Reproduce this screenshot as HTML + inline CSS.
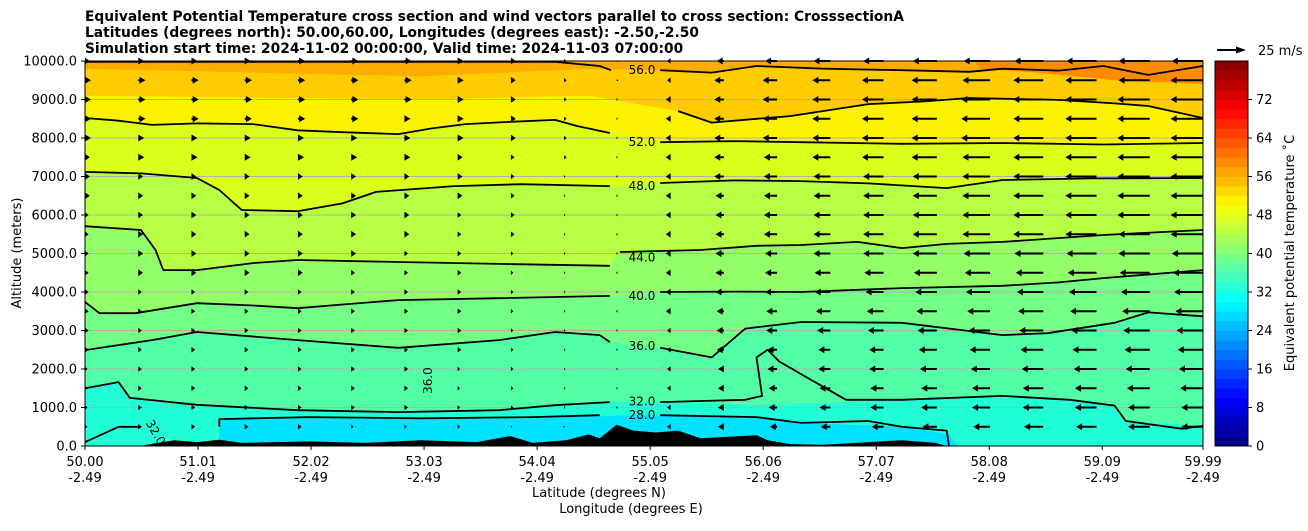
<!DOCTYPE html>
<html><head><meta charset="utf-8"><style>
body{margin:0;background:#fff}
svg text{font-family:"DejaVu Sans","Liberation Sans",sans-serif;fill:#000}
</style></head><body>
<svg id="chart" width="1308" height="526" viewBox="0 0 1308 526" xmlns="http://www.w3.org/2000/svg">
<g font-size="13.8" font-weight="bold">
<text x="85" y="21">Equivalent Potential Temperature cross section and wind vectors parallel to cross section: CrosssectionA</text>
<text x="85" y="37">Latitudes (degrees north): 50.00,60.00, Longitudes (degrees east): -2.50,-2.50</text>
<text x="85" y="53">Simulation start time: 2024-11-02 00:00:00, Valid time: 2024-11-03 07:00:00</text>
</g>
<defs><clipPath id="pc"><rect x="85" y="61" width="1118" height="385"/></clipPath></defs>
<g id="fills" clip-path="url(#pc)"></g>
<g id="grid"></g>
<g id="terrain" clip-path="url(#pc)"></g>
<g id="lines" clip-path="url(#pc)"></g>
<g id="arrows"></g>
<g id="clabels" font-size="12"></g>
<rect x="85" y="61" width="1118" height="385" fill="none" stroke="#000" stroke-width="1"/>
<g id="axes" font-size="13"></g>
<text x="0" y="0" font-size="13" transform="translate(21,253) rotate(-90)" text-anchor="middle">Altitude (meters)</text>
<text x="599" y="497" font-size="13" text-anchor="middle">Latitude (degrees N)</text>
<text x="631" y="513" font-size="13" text-anchor="middle">Longitude (degrees E)</text>
<g id="cbar"></g>
<text font-size="13" transform="translate(1294,253) rotate(-90)" text-anchor="middle">Equivalent potential temperature ˚C</text>
<g>
<line x1="1217" y1="50" x2="1238" y2="50" stroke="#000" stroke-width="2"/>
<polygon points="1246,50 1236,46.5 1236,53.5" fill="#000"/>
<text x="1258" y="55" font-size="13">25 m/s</text>
</g>
</svg>
<script>
const yTicks=[0,1000,2000,3000,4000,5000,6000,7000,8000,9000,10000];
const xTickLat=["50.00","51.01","52.02","53.03","54.04","55.05","56.06","57.07","58.08","59.09","59.99"];
const xTickLon=["-2.49","-2.49","-2.49","-2.49","-2.49","-2.49","-2.49","-2.49","-2.49","-2.49","-2.49"];
const cbarTicks=[0,8,16,24,32,40,48,56,64,72];
const windAlts=[10000,9500,9000,8500,8000,7500,7000,6500,6000,5500,5000,4500,4000,3500,3000,2500,2000,1500,1000,500];
const windU=[
[4,5,5,5,6,6,6,5,4,2,0,-3,-6,-10,-14,-17,-20,-22,-24,-25,-26,-26],
[5,6,6,6,6,6,6,5,4,2,0,-3,-8,-12,-15,-18,-21,-23,-25,-26,-26,-27],
[5,6,6,6,6,6,6,5,4,2,-1,-4,-8,-12,-15,-18,-21,-24,-25,-26,-27,-27],
[5,6,6,6,6,6,5,5,4,2,-1,-4,-8,-12,-15,-18,-21,-24,-25,-26,-27,-27],
[5,5,5,5,5,5,5,5,4,2,-1,-4,-8,-12,-15,-18,-21,-24,-25,-26,-27,-27],
[4,5,5,5,5,5,5,4,3,2,-1,-4,-8,-11,-15,-18,-21,-23,-25,-26,-27,-27],
[4,4,4,4,4,4,4,4,3,1,-1,-4,-8,-11,-14,-17,-20,-23,-25,-26,-27,-27],
[4,4,4,4,4,4,4,4,3,1,-1,-4,-7,-11,-14,-17,-20,-23,-25,-26,-27,-27],
[3,4,4,4,4,4,4,3,3,1,-1,-4,-7,-11,-14,-17,-20,-23,-25,-26,-27,-27],
[3,4,4,4,4,4,4,3,3,1,-1,-4,-7,-11,-14,-17,-20,-23,-25,-26,-26,-27],
[3,4,4,4,4,4,3,3,2,1,-1,-4,-7,-10,-14,-17,-20,-22,-24,-25,-26,-26],
[3,4,4,4,4,3,3,3,2,1,-1,-4,-7,-10,-13,-16,-19,-21,-23,-24,-25,-25],
[3,3,3,3,3,3,3,3,2,1,-1,-4,-7,-10,-13,-15,-18,-20,-22,-23,-24,-24],
[3,3,3,3,3,3,3,3,2,1,-1,-4,-6,-9,-12,-14,-17,-19,-21,-22,-23,-23],
[3,3,3,3,3,3,3,3,2,1,-1,-3,-6,-9,-11,-13,-16,-18,-20,-21,-22,-22],
[3,3,3,3,3,3,3,3,2,1,-1,-3,-6,-8,-10,-12,-15,-17,-19,-20,-21,-21],
[2,3,3,3,3,3,3,2,2,1,-1,-3,-5,-8,-10,-12,-14,-16,-18,-19,-20,-20],
[2,3,3,3,3,3,3,2,2,1,-1,-3,-5,-7,-9,-11,-13,-15,-17,-18,-19,-19],
[2,3,3,3,3,3,3,2,2,1,-1,-3,-5,-7,-9,-11,-13,-15,-17,-18,-18,-18],
[2,3,3,3,3,2,2,2,1,0,-1,-3,-5,-6,-8,-10,-12,-14,-16,-17,-18,-18]];
const c56a=[[50,9980],[54.2,9980],[54.6,9870],[54.7,9760]];
const c56b=[[55.14,9760],[55.6,9700],[56.0,9870],[56.6,9800],[57.3,9760],[57.9,9720],[58.2,9800],[58.7,9750],[59.1,9870],[59.5,9640],[59.99,9870]];
const c54=[[55.3,8700],[55.6,8400],[56.0,8500],[56.3,8570],[57.0,8880],[57.5,8950],[57.9,9040],[58.7,8990],[59.2,8900],[59.5,8830],[59.99,8520]];
const c52a=[[50,8520],[50.3,8450],[50.6,8340],[51.0,8380],[51.5,8360],[51.9,8200],[52.3,8150],[52.8,8100],[53.1,8250],[53.4,8360],[53.8,8420],[54.2,8470],[54.4,8310],[54.69,8130]];
const c52b=[[55.14,7890],[55.8,7920],[56.4,7890],[57.3,7850],[58.2,7870],[59.1,7830],[59.99,7870]];
const c48a=[[50,7120],[50.5,7080],[51.0,6960],[51.2,6650],[51.4,6130],[51.9,6100],[52.3,6300],[52.6,6600],[53.3,6750],[53.9,6800],[54.69,6750]];
const c48b=[[55.14,6830],[55.8,6900],[56.4,6880],[57.0,6820],[57.7,6700],[58.2,6910],[59.0,6950],[59.99,6960]];
const c44a=[[50,5710],[50.5,5610],[50.63,5090],[50.7,4570],[51.0,4570],[51.5,4750],[51.9,4830],[52.8,4780],[53.7,4730],[54.69,4680]];
const c44b=[[54.78,5040],[55.5,5090],[56.0,5200],[56.4,5220],[56.9,5300],[57.3,5140],[57.7,5250],[58.2,5300],[59.1,5480],[59.99,5610]];
const c40a=[[50,3740],[50.13,3450],[50.45,3450],[51.0,3710],[51.5,3650],[51.9,3580],[52.4,3700],[52.8,3790],[53.7,3840],[54.69,3900]];
const c40b=[[55.14,4000],[55.8,4010],[56.4,4000],[57.3,4100],[58.2,4160],[58.7,4250],[59.1,4360],[59.99,4570]];
const c36a=[[50,2490],[50.6,2750],[51.0,2960],[51.9,2750],[52.8,2550],[53.7,2750],[54.2,2960],[54.6,2880],[54.69,2700]];
const c36b=[[55.14,2550],[55.6,2300],[55.9,3050],[56.4,3220],[57.3,3200],[58.2,2880],[58.6,2930],[59.2,3200],[59.5,3470],[59.99,3370]];
const c32a=[[50,1500],[50.3,1660],[50.4,1250],[51.0,1070],[51.9,930],[52.8,880],[53.7,930],[54.2,1060],[54.69,1140]];
const c32b=[[55.14,1140],[55.9,1200],[56.05,1300],[56.0,2300],[56.1,2500],[56.2,2200],[56.5,1700],[56.8,1200],[57.3,1200],[58.2,1300],[58.8,1200],[59.2,1050],[59.3,650],[59.8,450],[59.99,520]];
const c28a=[[50,100],[50.3,500],[50.5,500]];
const c28b=[[51.2,500],[51.2,700],[52.0,750],[53.0,720],[54.0,750],[54.6,800]];
const c28c=[[55.14,800],[56.0,750],[56.4,600],[57.0,650],[57.3,500],[57.7,400],[57.72,0]];
const cyanPool=[[51.2,0],[51.2,700],[52,750],[53,720],[54,750],[55,800],[56,750],[56.4,600],[57.3,500],[57.72,300],[57.8,0]];
const terrain=[[50.5,0],[50.6,60],[50.8,150],[51.0,100],[51.2,160],[51.4,80],[52.0,120],[52.5,80],[53.0,150],[53.5,100],[53.8,260],[54.0,80],[54.3,150],[54.5,300],[54.6,200],[54.75,550],[54.9,400],[55.1,350],[55.3,400],[55.5,200],[56.0,280],[56.1,150],[56.3,50],[56.6,30],[57.0,100],[57.3,150],[57.6,80],[57.7,0]];
const NS="http://www.w3.org/2000/svg";
const X=lat=>85+(lat-50)/9.99*1118;
const Y=alt=>446-alt/10000*385;
function mk(tag,attrs,parent){const e=document.createElementNS(NS,tag);for(const k in attrs)e.setAttribute(k,attrs[k]);parent.appendChild(e);return e;}
const pts=a=>a.map(p=>X(p[0]).toFixed(1)+","+Y(p[1]).toFixed(1)).join(" ");
const fills=document.getElementById('fills');
let bg=mk('rect',{x:85,y:61,width:1118,height:385,fill:'#22ffd6'},fills);


function above(line,color,name){
  const a=[[50,line[0][1]],...line,[59.99,line[line.length-1][1]],[59.99,11000],[50,11000]];
  const p=mk('polygon',{points:pts(a),fill:color},fills);
  
  
}
above([...c32a,[55.14,1140],[56,1060],[57.3,1200],[58.2,1300],[58.8,1200],[59.2,1050],[59.3,650],[59.99,520]],'#52ffa6','fill-32-36');
above([...c36a,...c36b],'#74ff86','fill-36-40');
above([...c40a,...c40b],'#92ff68','fill-40-44');
above([...c44a,...c44b],'#b6ff44','fill-44-48');
above([...c48a,...c48b],'#dcff1c','fill-48-52');
above([...c52a,...c52b],'#fcf200','fill-52-56');
above([[50,9100],[53,9000],[54.5,9100],...c54],'#ffcc00','fill-54-56');
above([[50,9800],[51.5,9700],[53,9600],[54.5,9800],...c56b],'#ffac00','fill-56-60');
above([[50,12000],[57.5,12000],[58.0,9800],[58.5,9700],[59.2,9500],[59.99,9400]],'#ff8c00','fill-60-64');
let cp=mk('polygon',{points:pts(cyanPool),fill:'#00e2ff'},fills);


const grid=document.getElementById('grid');
yTicks.forEach(v=>{if(v>0&&v<10000){const l=mk('line',{x1:85,x2:1203,y1:Y(v),y2:Y(v),stroke:'#b0b0b0','stroke-width':1},grid);

}});
const ter=mk('polygon',{points:pts([...terrain]),fill:'#000'},document.getElementById('terrain'));


const lines=document.getElementById('lines');
[c56a,c56b,c54,c52a,c52b,c48a,c48b,c44a,c44b,c40a,c40b,c36a,c36b,c32a,c32b,c28a,c28b,c28c].forEach(c=>{
  const pl=mk('polyline',{points:pts(c),fill:'none',stroke:'#000','stroke-width':1.8,'stroke-linejoin':'round'},lines);
  
  
});
const cl=document.getElementById('clabels');
[["56.0",9760],["52.0",7900],["48.0",6750],["44.0",4900],["40.0",3900],["36.0",2600],["32.0",1150],["28.0",800]].forEach(d=>{
  const t=mk('text',{x:642,y:Y(d[1])+4,'text-anchor':'middle'},cl);t.textContent=d[0];
  
  
});
const t36=mk('text',{transform:`translate(${X(53.1)},${Y(1700)}) rotate(-90)`,'text-anchor':'middle'},cl);t36.textContent="36.0";


const t32=mk('text',{transform:`translate(${X(50.6)},${Y(300)}) rotate(60)`,'text-anchor':'middle'},cl);t32.textContent="32.0";


const ar=document.getElementById('arrows');
windAlts.forEach((alt,r)=>{windU[r].forEach((u,i)=>{
  const x0=X(50+i*9.99/21),y0=Y(alt),L=u*1.2,s=Math.sign(L)||1,a=Math.abs(L);
  const g=mk('g',{},ar);
  
  
  if(a<1){mk('circle',{cx:x0,cy:y0,r:0.8,fill:'#000'},g);return;}
  const hl=Math.min(6,a),hw=Math.min(3.5,1+a*0.5);
  if(a>hl)mk('line',{x1:x0,y1:y0,x2:x0+s*(a-hl+0.5),y2:y0,stroke:'#000','stroke-width':2},g);
  const tip=x0+s*a;
  mk('polygon',{points:`${tip},${y0} ${tip-s*hl},${y0-hw} ${tip-s*hl},${y0+hw}`,fill:'#000'},g);
});});
const ax=document.getElementById('axes');
yTicks.forEach(v=>{
  mk('line',{x1:81,x2:85,y1:Y(v),y2:Y(v),stroke:'#000'},ax);
  const t=mk('text',{x:77,y:Y(v)+4.5,'text-anchor':'end'},ax);t.textContent=v.toFixed(1);
  
  
});
xTickLat.forEach((lab,i)=>{
  const x=X(parseFloat(lab));
  mk('line',{x1:x,x2:x,y1:446,y2:450,stroke:'#000'},ax);
  const t=mk('text',{x:x,y:466,'text-anchor':'middle'},ax);t.textContent=lab;
  
  
  const t2=mk('text',{x:x,y:482,'text-anchor':'middle'},ax);t2.textContent=xTickLon[i];
  
  
});
function jet(v){const c=x=>Math.round(255*Math.max(0,Math.min(1,x)));
  return `rgb(${c(1.5-Math.abs(4*v-3))},${c(1.5-Math.abs(4*v-2))},${c(1.5-Math.abs(4*v-1))})`;}
const cb=document.getElementById('cbar');
const CY=v=>446-v/80*385;
for(let k=0;k<40;k++){const r=mk('rect',{x:1215,y:CY(2*k+2),width:33,height:385/40+0.4,fill:jet((k+0.5)/40)},cb);

}
mk('rect',{x:1215,y:61,width:33,height:385,fill:'none',stroke:'#000'},cb);
cbarTicks.forEach(v=>{mk('line',{x1:1248,x2:1252,y1:CY(v),y2:CY(v),stroke:'#000'},cb);
  const t=mk('text',{x:1256,y:CY(v)+4.5,'font-size':13},cb);t.textContent=v;
  
  });
</script>
</body></html>
